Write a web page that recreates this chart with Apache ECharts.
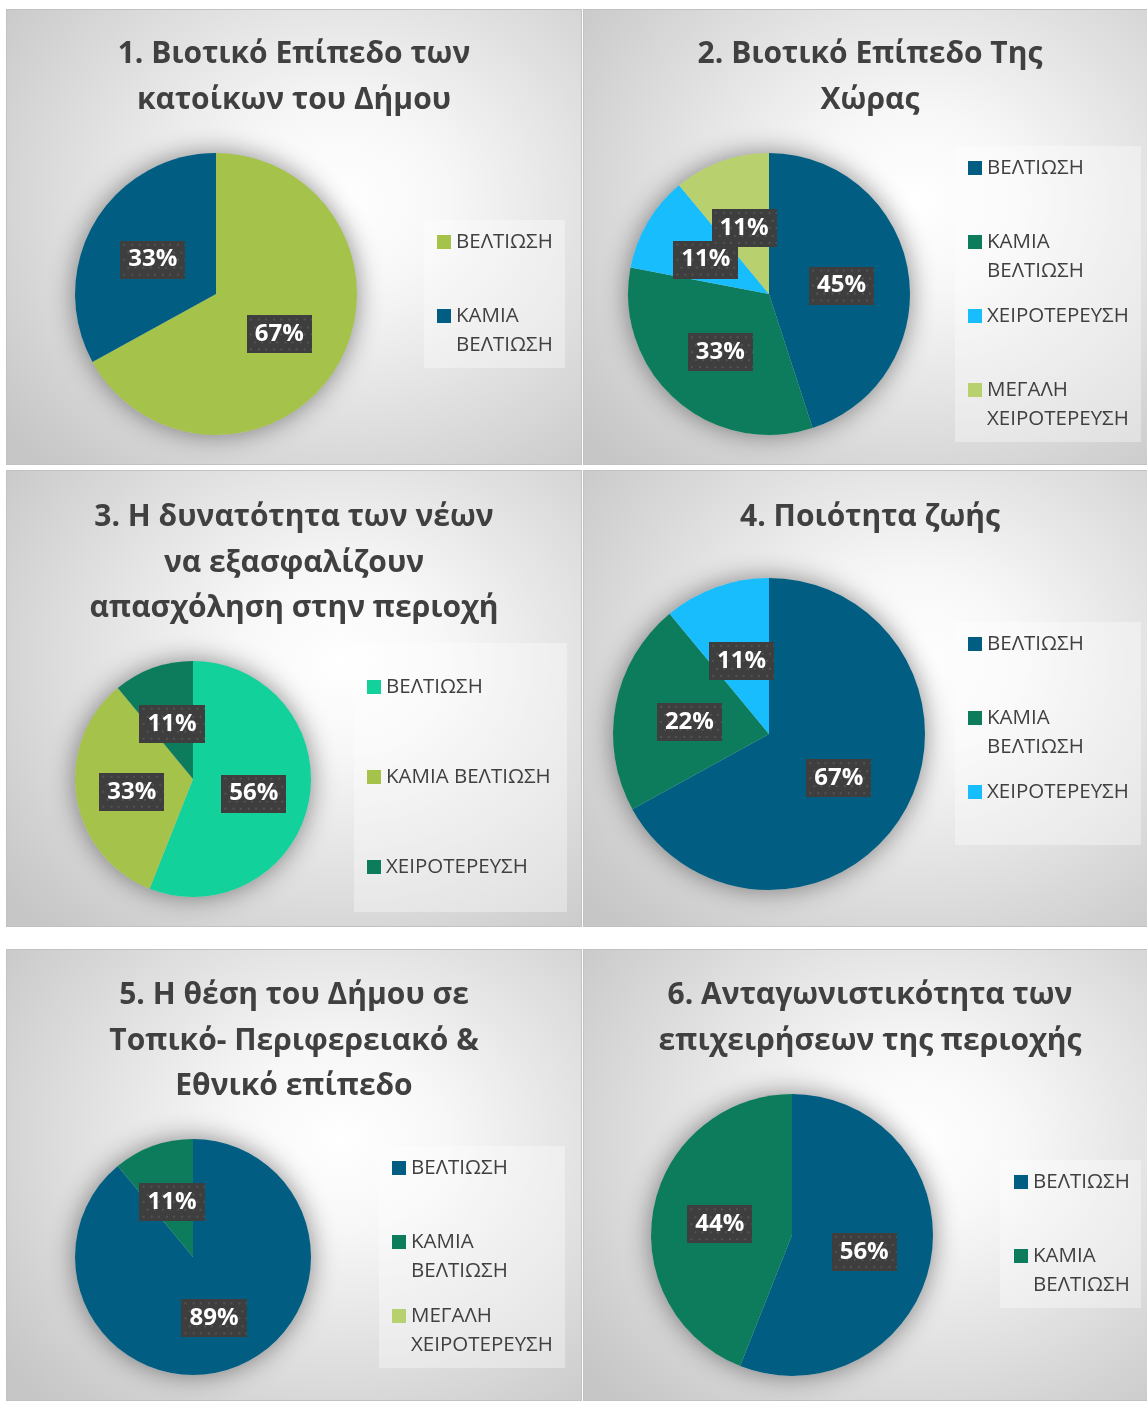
<!DOCTYPE html>
<html>
<head>
<meta charset="utf-8">
<script src="https://cdn.jsdelivr.net/npm/echarts@6/dist/echarts.min.js"></script>
<style>
  html, body { margin: 0; padding: 0; background: #ffffff; overflow: hidden; width: 1147px; height: 1401px; }
  .panel {
    position: absolute; box-sizing: border-box;
    border: 1px solid #c2c2c2;
    background: radial-gradient(ellipse 75% 80% at 58% 42%, #ffffff 0%, #f7f7f7 25%, #e0e0e0 60%, #c6c6c6 100%);
  }
  .chart { position: absolute; left: -1px; top: -1px; width: calc(100% + 2px); height: calc(100% + 2px); }
</style>
</head>
<body>
<script>
// ---- survey answers (percent of respondents) ----
const titles = [
  '1. Βιοτικό Επίπεδο των\nκατοίκων του Δήμου',
  '2. Βιοτικό Επίπεδο Της\nΧώρας',
  '3. Η δυνατότητα των νέων\nνα εξασφαλίζουν\nαπασχόληση στην περιοχή',
  '4. Ποιότητα ζωής',
  '5. Η θέση του Δήμου σε\nΤοπικό- Περιφερειακό &\nΕθνικό επίπεδο',
  '6. Ανταγωνιστικότητα των\nεπιχειρήσεων της περιοχής'
];

const categories1 = ['ΒΕΛΤΙΩΣΗ', 'ΚΑΜΙΑ ΒΕΛΤΙΩΣΗ'];
const values1 = [67, 33];

const categories2 = ['ΒΕΛΤΙΩΣΗ', 'ΚΑΜΙΑ ΒΕΛΤΙΩΣΗ', 'ΧΕΙΡΟΤΕΡΕΥΣΗ', 'ΜΕΓΑΛΗ ΧΕΙΡΟΤΕΡΕΥΣΗ'];
const values2 = [45, 33, 11, 11];

const categories3 = ['ΒΕΛΤΙΩΣΗ', 'ΚΑΜΙΑ ΒΕΛΤΙΩΣΗ', 'ΧΕΙΡΟΤΕΡΕΥΣΗ'];
const values3 = [56, 33, 11];

const categories4 = ['ΒΕΛΤΙΩΣΗ', 'ΚΑΜΙΑ ΒΕΛΤΙΩΣΗ', 'ΧΕΙΡΟΤΕΡΕΥΣΗ'];
const values4 = [67, 22, 11];

const categories5 = ['ΒΕΛΤΙΩΣΗ', 'ΚΑΜΙΑ ΒΕΛΤΙΩΣΗ', 'ΜΕΓΑΛΗ ΧΕΙΡΟΤΕΡΕΥΣΗ'];
const values5 = [89, 11, 0];

const categories6 = ['ΒΕΛΤΙΩΣΗ', 'ΚΑΜΙΑ ΒΕΛΤΙΩΣΗ'];
const values6 = [56, 44];

// ---- colours ----
const C = {
  blue: '#015E82', green: '#0C7C5D', sky: '#17BDFD',
  lime: '#A5C24A', paleLime: '#B8D06E', teal: '#12D19A'
};
const palettes = [
  [C.lime, C.blue],
  [C.blue, C.green, C.sky, C.paleLime],
  [C.teal, C.lime, C.green],
  [C.blue, C.green, C.sky],
  [C.blue, C.green, C.paleLime],
  [C.blue, C.green]
];

// ---- layout of the six panels (page pixels) and their contents (panel pixels) ----
const panels = [
  { x: 6,   y: 9,   w: 576, h: 456, pie: [210, 285], r: 141, box: [418, 211, 141, 148], icon: 431, first: 233, step: 74, wrap: true },
  { x: 583, y: 9,   w: 574, h: 456, pie: [186, 285], r: 141, box: [372, 137, 186, 296], icon: 385, first: 159, step: 74, wrap: true },
  { x: 6,   y: 470, w: 576, h: 457, pie: [187, 309], r: 118, box: [348, 173, 213, 269], icon: 361, first: 217, step: 90, wrap: false },
  { x: 583, y: 470, w: 574, h: 457, pie: [186, 264], r: 156, box: [372, 152, 186, 223], icon: 385, first: 174, step: 74, wrap: true },
  { x: 6,   y: 949, w: 576, h: 452, pie: [187, 308], r: 118, box: [373, 197, 186, 222], icon: 386, first: 219, step: 74, wrap: true },
  { x: 583, y: 949, w: 574, h: 452, pie: [209, 286], r: 141, box: [417, 211, 141, 148], icon: 431, first: 233, step: 74, wrap: true }
];
const titleTops = [23, 23, 25, 25, 24, 24];

const allCategories = [categories1, categories2, categories3, categories4, categories5, categories6];
const allValues = [values1, values2, values3, values4, values5, values6];

const FONT = '"Open Sans", "Noto Sans", sans-serif';
const TEXT_GREY = '#404040';
const LINE = 29;

// dotted dark texture for the value tags
function dottedTile() {
  const c = document.createElement('canvas');
  c.width = 64; c.height = 38;
  const g = c.getContext('2d');
  g.fillStyle = '#3e3e3e';
  g.fillRect(0, 0, c.width, c.height);
  g.fillStyle = 'rgba(255,255,255,0.11)';
  let row = 0;
  for (let yy = 3; yy < c.height; yy += 7.5, row++) {
    for (let xx = (row % 2 ? 6.5 : 3); xx < c.width; xx += 7.5) {
      g.fillRect(Math.round(xx), Math.round(yy), 2, 2);
    }
  }
  return c;
}
const tile = dottedTile();

// one legend component per entry so each entry sits on its own fixed slot;
// a wrapped entry gets an empty leading line so that the marker (which is
// centred on the text block) stays level with the first printed line
function legendEntries(p, names) {
  return names.map(function (n, k) {
    const twoLines = p.wrap && n.indexOf(' ') >= 0;
    const centre = p.first + k * p.step;
    return {
      orient: 'vertical',
      left: p.icon,
      top: twoLines ? centre - 1.5 * LINE : centre - LINE / 2,
      padding: 0,
      itemWidth: 14,
      itemHeight: 14,
      icon: 'rect',
      selectedMode: false,
      data: [n],
      formatter: function (s) { return twoLines ? '\n' + s.replace(' ', '\n') : s; },
      textStyle: {
        fontFamily: FONT, fontSize: 20.5, color: TEXT_GREY, lineHeight: LINE
      }
    };
  });
}

panels.forEach(function (p, i) {
  const panel = document.createElement('div');
  panel.className = 'panel';
  panel.style.left = p.x + 'px';
  panel.style.top = p.y + 'px';
  panel.style.width = p.w + 'px';
  panel.style.height = p.h + 'px';
  const holder = document.createElement('div');
  holder.className = 'chart';
  panel.appendChild(holder);
  document.body.appendChild(panel);

  const names = allCategories[i];
  const vals = allValues[i];
  const pal = palettes[i];

  const data = names.map(function (n, k) {
    return {
      name: n,
      value: vals[k],
      itemStyle: { color: pal[k] },
      label: { show: vals[k] > 0 }
    };
  });

  const chart = echarts.init(holder, null, { renderer: 'canvas' });
  chart.setOption({
    animation: false,
    title: {
      text: titles[i],
      left: 'center',
      top: titleTops[i],
      padding: 0,
      textStyle: {
        fontFamily: FONT, fontSize: 30, fontWeight: 'bold',
        color: TEXT_GREY, lineHeight: 45.5
      }
    },
    graphic: [{
      type: 'rect', z: -10, silent: true,
      shape: { x: p.box[0], y: p.box[1], width: p.box[2], height: p.box[3] },
      style: { fill: 'rgba(255,255,255,0.35)' }
    }],
    legend: legendEntries(p, names),
    series: [
      {
        // soft drop shadow under the whole pie
        type: 'pie', silent: true, z: 1,
        center: p.pie, radius: p.r,
        startAngle: 90,
        label: { show: false }, labelLine: { show: false },
        itemStyle: {
          color: '#cccccc',
          shadowBlur: 26, shadowColor: 'rgba(0,0,0,0.45)', shadowOffsetX: 0, shadowOffsetY: 0
        },
        data: [{ name: '', value: 1 }]
      },
      {
        type: 'pie', z: 2,
        center: p.pie, radius: p.r,
        startAngle: 90, clockwise: true,
        avoidLabelOverlap: false,
        labelLayout: { hideOverlap: false },
        labelLine: { show: false },
        label: {
          position: 'inside',
          offset: [0, 3],
          formatter: function (d) { return d.value + '%'; },
          fontFamily: FONT, fontSize: 24, fontWeight: 'bold', color: '#ffffff',
          lineHeight: 26,
          padding: [6, 8, 6, 8],
          backgroundColor: { image: tile },
          shadowColor: 'rgba(0,0,0,0.55)', shadowBlur: 6,
          shadowOffsetX: 3, shadowOffsetY: 3
        },
        emphasis: { disabled: true },
        data: data
      }
    ]
  });
});
</script>
</body>
</html>
